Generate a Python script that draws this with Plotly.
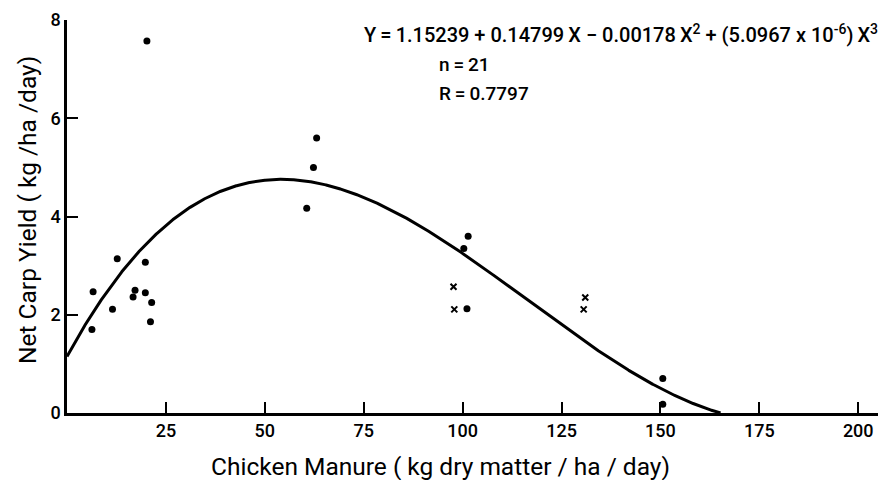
import numpy as np
import plotly.graph_objects as go

# Observed yields (filled circles)
dot_manure = [20.2, 63.1, 62.3, 60.6, 12.7, 19.8, 6.6, 17.2, 16.7, 19.8,
              21.4, 11.5, 21.1, 6.3, 101.4, 100.3, 101.1, 150.6, 150.6]
dot_yield = [7.57, 5.60, 5.00, 4.17, 3.14, 3.07, 2.47, 2.50, 2.36, 2.45,
             2.25, 2.11, 1.86, 1.70, 3.60, 3.35, 2.12, 0.70, 0.18]

# Observed yields (crosses)
cross_manure = [97.7, 97.9, 131.0, 130.6]
cross_yield = [2.57, 2.11, 2.35, 2.11]

# Cubic regression coefficients
coef = [1.15239, 0.14799, -0.00178, 5.0967e-6]

x_ticks = [25, 50, 75, 100, 125, 150, 175, 200]
y_ticks = [0, 2, 4, 6, 8]

FONT = "Roboto, sans-serif"
TS = "\u2009"  # thin space

xs = np.linspace(0, 205, 2051)
ys = coef[0] + coef[1] * xs + coef[2] * xs ** 2 + coef[3] * xs ** 3
neg = np.where(ys < 0)[0]
if len(neg):
    stop = neg[0]
    xs, ys = xs[:stop], ys[:stop]

fig = go.Figure()
fig.add_trace(go.Scatter(x=xs, y=ys, mode="lines",
                         line=dict(color="black", width=3),
                         cliponaxis=False, hoverinfo="skip"))
fig.add_trace(go.Scatter(x=dot_manure, y=dot_yield, mode="markers",
                         marker=dict(symbol="circle", size=7, color="black"),
                         cliponaxis=False))
fig.add_trace(go.Scatter(x=cross_manure, y=cross_yield, mode="markers",
                         marker=dict(symbol="x-thin", size=6,
                                     line=dict(color="black", width=2)),
                         cliponaxis=False))

fig.update_layout(
    width=883, height=480,
    margin=dict(l=67, r=5, t=20, b=67),
    paper_bgcolor="white", plot_bgcolor="white",
    showlegend=False,
    font=dict(family=FONT, color="black"),
)
axis_style = dict(showgrid=False, zeroline=False,
                  showline=True, linecolor="black", linewidth=2.5,
                  ticks="inside", ticklen=11, tickwidth=1.5, tickcolor="black",
                  tickfont=dict(size=18, family=FONT, weight=500))
fig.update_xaxes(range=[0, 205], tickvals=x_ticks,
                 ticktext=[str(v) for v in x_ticks], **axis_style)
fig.update_yaxes(range=[0, 8], tickvals=y_ticks,
                 ticktext=[str(v) for v in y_ticks], **axis_style)

# Axis titles
fig.add_annotation(text="Chicken Manure ( kg dry matter / ha / day)",
                   xref="paper", yref="paper", x=(440 - 67) / 811, y=-(466 - 413) / 393,
                   xanchor="center", yanchor="middle", showarrow=False,
                   font=dict(size=24.5, family=FONT))
fig.add_annotation(text="Net Carp Yield ( kg /ha /day)",
                   xref="paper", yref="paper", x=-(67 - 27) / 811, y=(413 - 210) / 393,
                   xanchor="center", yanchor="middle", showarrow=False,
                   textangle=-90, font=dict(size=24.5, family=FONT))

# Regression statistics
eq = (f"Y{TS}={TS}1.15239 + 0.14799{TS}X − 0.00178{TS}X<sup>2</sup> + "
      f"(5.0967 x 10<sup>-6</sup>){TS}X<sup>3</sup>")
fig.add_annotation(text=eq,
                   xref="paper", yref="paper", x=(362 - 67) / 811, y=(413 - 34) / 393,
                   xanchor="left", yanchor="middle", showarrow=False,
                   font=dict(size=20, family=FONT, weight=500))
fig.add_annotation(text=f"n{TS}={TS}21",
                   xref="paper", yref="paper", x=(437 - 67) / 811, y=(413 - 65) / 393,
                   xanchor="left", yanchor="middle", showarrow=False,
                   font=dict(size=19, family=FONT, weight=500))
fig.add_annotation(text=f"R{TS}={TS}0.7797",
                   xref="paper", yref="paper", x=(437 - 67) / 811, y=(413 - 93) / 393,
                   xanchor="left", yanchor="middle", showarrow=False,
                   font=dict(size=19, family=FONT, weight=500))

fig.write_html("out.html")
